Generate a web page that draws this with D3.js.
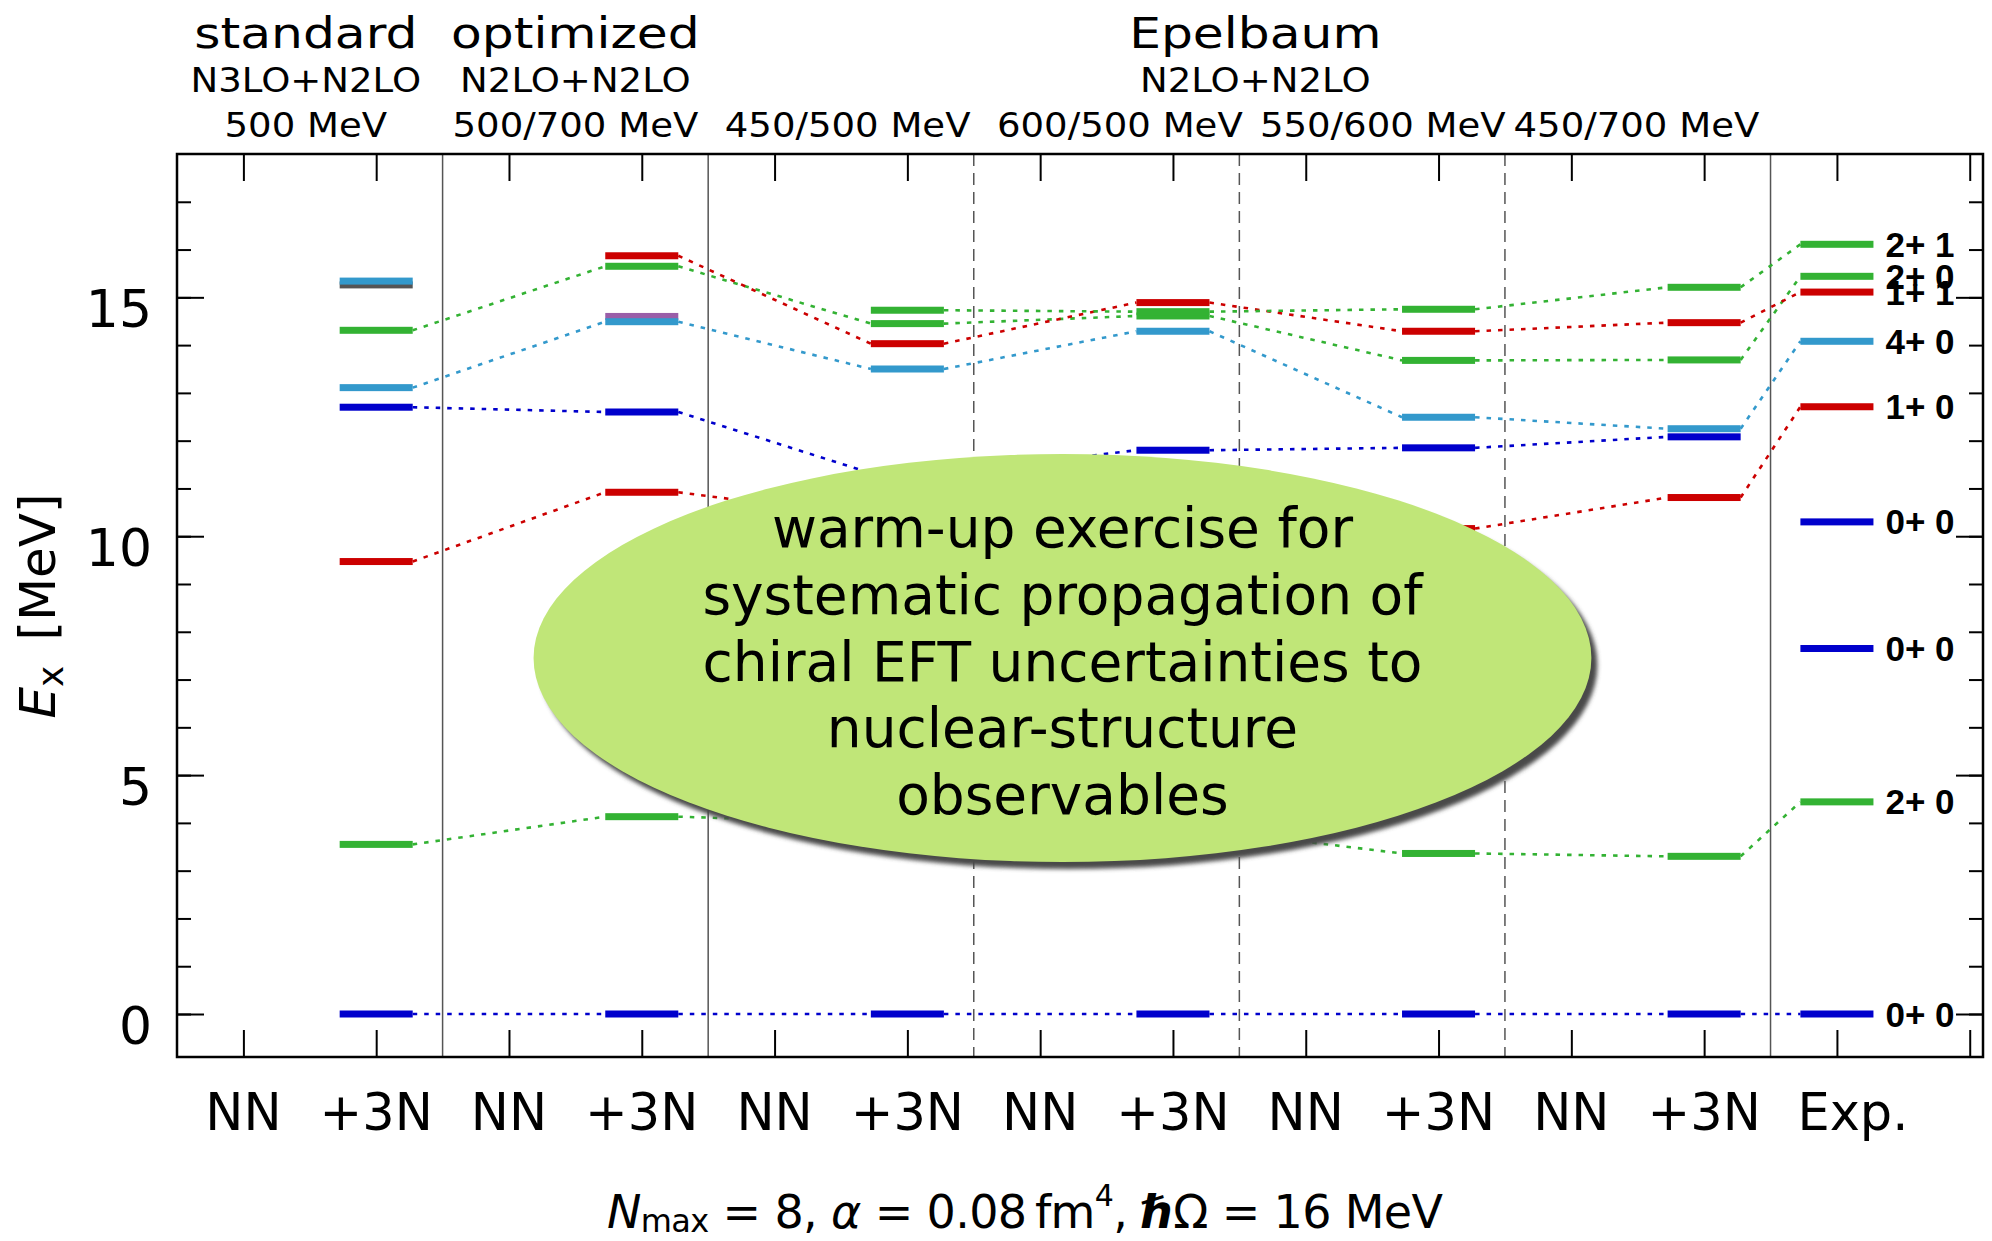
<!DOCTYPE html>
<html><head><meta charset="utf-8">
<script src="https://cdn.jsdelivr.net/npm/d3@7"></script>
<style>
body{margin:0;background:#fff;}
svg text{font-family:"DejaVu Sans",sans-serif;fill:#000;}
</style></head><body>
<svg id="chart" width="1992" height="1241"></svg>
<script>
// ---------- DATA ----------
const categories = ["NN","+3N","NN","+3N","NN","+3N","NN","+3N","NN","+3N","NN","+3N","Exp."];
const levelColumns = [1,3,5,7,9,11,12];          // six +3N calculations, then experiment
const groupTitles = ["standard","optimized","Epelbaum"];
const groupInteractions = ["N3LO+N2LO","N2LO+N2LO","N2LO+N2LO"];
const cutoffLabels = ["500 MeV","500/700 MeV","450/500 MeV","600/500 MeV","550/600 MeV","450/700 MeV"];
const yMajorTicks = [0,5,10,15];
const yMinorTicks = [0,1,2,3,4,5,6,7,8,9,10,11,12,13,14,15,16,17];
const xTickIdx = [0,1,2,3,4,5,6,7,8,9,10,11,12,13];

// excitation energies (MeV): +3N calculations 1..6, then Exp.
const gs0plus     = [0,0,0,0,0,0,0];
const first2plus  = [3.55,4.13,4.00,3.85,3.36,3.30,4.44];
const second0plus = [12.70,12.60,11.32,11.80,11.85,12.08,null];
const onePlusT0   = [9.47,10.92,10.40,10.00,10.16,10.81,12.71];
const fourPlus    = [13.11,14.49,13.50,14.29,12.49,12.25,14.08];
const twoPlusT0   = [14.31,15.65,14.45,14.61,13.68,13.69,15.44];
const onePlusT1   = [null,15.87,14.03,14.89,14.29,14.47,15.11];
const twoPlusT1   = [null,null,14.73,14.70,14.75,15.21,16.11];

// unconnected levels (calculation number 1..6)
const extraLevelCalc   = [1,1,2];
const extraLevelEnergy = [15.26,15.34,14.60];
const extraLevelKind   = ["other","4+","other2"];
const expOnlyEnergy = [7.65,10.30];

// experimental labels
const expLabelEnergy = [16.11,15.44,15.11,14.08,12.71,10.30,7.65,4.44,0];
const expLabelText   = ["2+ 1","2+ 0","1+ 1","4+ 0","1+ 0","0+ 0","0+ 0","2+ 0","0+ 0"];

const bubbleLines = ["warm-up exercise for","systematic propagation of","chiral EFT uncertainties to","nuclear-structure","observables"];

// ---------- STYLE / LAYOUT ----------
const C = {blue:"#0000cc", red:"#cc0000", green:"#33b233", lblue:"#3399cc", purple:"#9a5ea8", gray:"#555555"};
const series = [
  {v:gs0plus, c:C.blue}, {v:first2plus, c:C.green}, {v:second0plus, c:C.blue},
  {v:onePlusT0, c:C.red}, {v:fourPlus, c:C.lblue}, {v:twoPlusT0, c:C.green},
  {v:onePlusT1, c:C.red}, {v:twoPlusT1, c:C.green}
];
const kindColor = {"other":C.gray, "4+":C.lblue, "other2":C.purple};
const frame = {left:177, right:1983, top:154, bottom:1057};
const HW = 0.275; // bar half width in column units

const svg = d3.select("#chart");
const x = d3.scaleLinear().domain([-0.5,13.1]).range([frame.left, frame.right]);
const y = d3.scaleLinear().domain([-0.9,18.0]).range([frame.bottom, frame.top]);

// separators
const seps = [{p:1.5,d:null},{p:3.5,d:null},{p:5.5,d:"12,7"},{p:7.5,d:"12,7"},{p:9.5,d:"12,7"},{p:11.5,d:null}];
svg.append("g").selectAll("line").data(seps).join("line")
  .attr("x1",d=>x(d.p)).attr("x2",d=>x(d.p)).attr("y1",frame.top).attr("y2",frame.bottom)
  .attr("stroke","#555").attr("stroke-width",1.5).attr("stroke-dasharray",d=>d.d);

// axes ticks
function styleAxis(g){ g.select(".domain").remove(); g.selectAll("text").remove(); g.selectAll("line").attr("stroke","#000").attr("stroke-width",2); }
svg.append("g").attr("transform",`translate(${frame.left},0)`).call(d3.axisRight(y).tickValues(yMinorTicks).tickSize(14)).call(styleAxis);
svg.append("g").attr("transform",`translate(${frame.left},0)`).call(d3.axisRight(y).tickValues(yMajorTicks).tickSize(27)).call(styleAxis);
svg.append("g").attr("transform",`translate(${frame.right},0)`).call(d3.axisLeft(y).tickValues(yMinorTicks).tickSize(14)).call(styleAxis);
svg.append("g").attr("transform",`translate(${frame.right},0)`).call(d3.axisLeft(y).tickValues(yMajorTicks).tickSize(27)).call(styleAxis);
svg.append("g").attr("transform",`translate(0,${frame.top})`).call(d3.axisBottom(x).tickValues(xTickIdx).tickSize(27)).call(styleAxis);
svg.append("g").attr("transform",`translate(0,${frame.bottom})`).call(d3.axisTop(x).tickValues(xTickIdx).tickSize(27)).call(styleAxis);

// y tick labels
svg.append("g").selectAll("text").data(yMajorTicks).join("text")
  .attr("x",152).attr("y",d=>y(d)+30).attr("text-anchor","end").attr("font-size",52).text(d=>d);

// x category labels
svg.append("g").selectAll("text").data(categories).join("text")
  .attr("x",(d,i)=>x(i)+(d==="Exp."?16:0)).attr("y",1130).attr("text-anchor","middle").attr("font-size",51).text(d=>d);

// y axis label
const yl = svg.append("text").attr("transform","translate(55,606) rotate(-90)").attr("text-anchor","middle").attr("font-size",50);
yl.append("tspan").attr("font-style","italic").text("E");
yl.append("tspan").attr("font-size",36).attr("dy",8).text("x");
yl.append("tspan").attr("dy",-8).text("\u2002[MeV]");

// titles
const titleX1 = [0.47,2.5,7.62];
const titleX3 = [0.47,2.5,4.55,6.6,8.58,10.49];
function stretched(txt, cx, base, fs, sx){
  svg.append("g").attr("transform",`translate(${cx},${base}) scale(${sx},1)`)
    .append("text").attr("text-anchor","middle").attr("font-size",fs).text(txt);
}
groupTitles.forEach((t,i)=>stretched(t, x(titleX1[i]), 48, 43, 1.17));
groupInteractions.forEach((t,i)=>stretched(t, x(titleX1[i]), 92, 34, 1.09));
cutoffLabels.forEach((t,i)=>stretched(t, x(titleX3[i]), 137, 34, 1.09));

// connectors
const gLines = svg.append("g");
series.forEach(s=>{
  for(let k=0;k<levelColumns.length-1;k++){
    const a=s.v[k], b=s.v[k+1];
    if(a==null||b==null) continue;
    gLines.append("line")
      .attr("x1",x(levelColumns[k]+HW)).attr("y1",y(a))
      .attr("x2",x(levelColumns[k+1]-HW)).attr("y2",y(b))
      .attr("stroke",s.c).attr("stroke-width",2.6).attr("stroke-dasharray","4.5,7");
  }
});

// bars
const gBars = svg.append("g");
function bar(col, e, color){
  gBars.append("rect").attr("x",x(col-HW)).attr("width",x(col+HW)-x(col-HW))
    .attr("y",y(e)-3.5).attr("height",7).attr("fill",color);
}
extraLevelEnergy.forEach((e,i)=>bar(levelColumns[extraLevelCalc[i]-1], e, kindColor[extraLevelKind[i]]));
series.forEach(s=>s.v.forEach((e,k)=>{ if(e!=null) bar(levelColumns[k], e, s.c); }));
expOnlyEnergy.forEach(e=>bar(levelColumns[6], e, C.blue));

// exp labels
svg.append("g").selectAll("text").data(expLabelText).join("text")
  .attr("x",x(levelColumns[6]+HW)+12).attr("y",(d,i)=>y(expLabelEnergy[i])+12.5)
  .attr("font-weight","bold").attr("font-size",35)
  .style("font-family","'Liberation Sans',Arial,sans-serif").text(d=>d);

// bubble
const defs = svg.append("defs");
defs.append("filter").attr("id","blur").attr("x","-10%").attr("y","-10%").attr("width","120%").attr("height","120%")
  .append("feGaussianBlur").attr("stdDeviation",2.2);
const ecx = x(6.168), ecy = y(7.45), erx = x(6.168+3.983)-x(6.168), ery = y(0)-y(4.27);
svg.append("ellipse").attr("cx",ecx+6).attr("cy",ecy+7).attr("rx",erx).attr("ry",ery).attr("fill","#4a4a4a").attr("filter","url(#blur)");
svg.append("ellipse").attr("cx",ecx).attr("cy",ecy).attr("rx",erx).attr("ry",ery).attr("fill","#c0e678");
svg.append("g").selectAll("text").data(bubbleLines).join("text")
  .attr("x",ecx).attr("y",(d,i)=>ecy+22.7+(i-2)*66.7).attr("text-anchor","middle").attr("font-size",55).text(d=>d);

// bottom annotation
const ba = svg.append("text").attr("x",607).attr("y",1228).attr("font-size",46)
  .attr("textLength",836).attr("lengthAdjust","spacing");
ba.append("tspan").attr("font-style","italic").text("N");
ba.append("tspan").attr("font-size",32).attr("dy",4).text("max");
ba.append("tspan").attr("dy",-4).text(" = 8,  ");
ba.append("tspan").attr("font-style","italic").text("\u03b1");
ba.append("tspan").text(" = 0.08\u2009fm");
ba.append("tspan").attr("font-size",30).attr("dy",-22).text("4");
ba.append("tspan").attr("dy",22).text(", ");
ba.append("tspan").attr("font-style","italic").attr("font-weight","bold").text("\u210f");
ba.append("tspan").text("\u03a9 = 16 MeV");

// frame
svg.append("rect").attr("x",frame.left).attr("y",frame.top).attr("width",frame.right-frame.left).attr("height",frame.bottom-frame.top)
  .attr("fill","none").attr("stroke","#000").attr("stroke-width",2.5);
</script>
</body></html>
